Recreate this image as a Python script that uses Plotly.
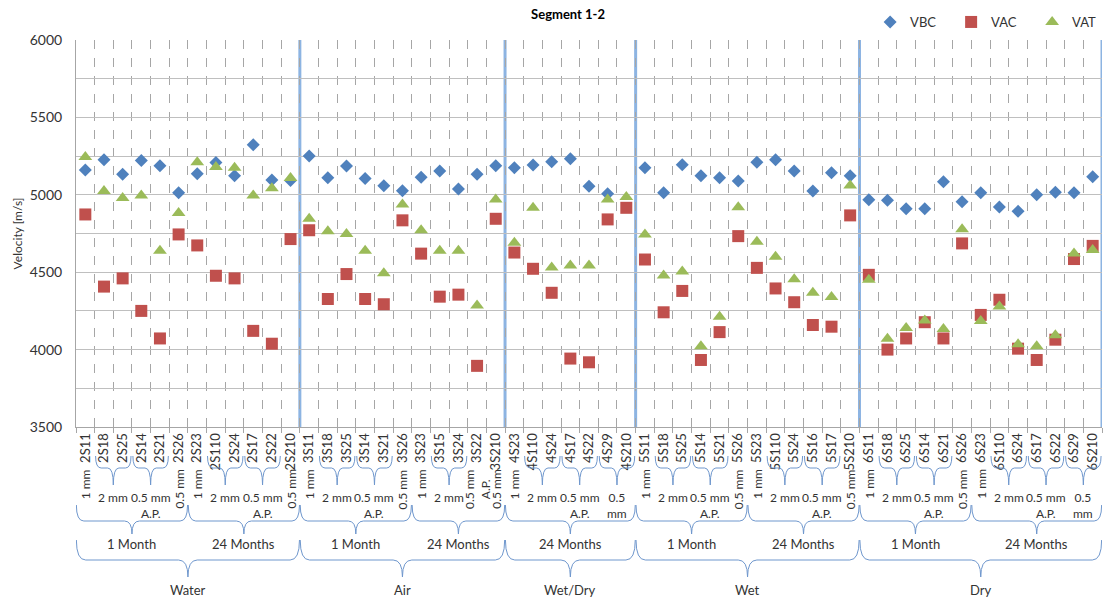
import plotly.graph_objects as go

categories = ["2S11","2S18","2S25","2S14","2S21","2S26","2S23","2S110","2S24","2S17","2S22","2S210",
              "3S11","3S18","3S25","3S14","3S21","3S26","3S23","3S15","3S24","3S22","3S210",
              "4S23","4S110","4S24","4S17","4S22","4S29","4S210",
              "5S11","5S18","5S25","5S14","5S21","5S26","5S23","5S110","5S24","5S16","5S17","5S210",
              "6S11","6S18","6S25","6S14","6S21","6S26","6S23","6S110","6S24","6S17","6S22","6S29","6S210"]

vbc = [5160,5226,5132,5222,5188,5013,5136,5209,5123,5323,5096,5093,
       5250,5110,5186,5106,5059,5026,5113,5153,5038,5132,5188,
       5175,5192,5214,5233,5055,5006,None,
       5175,5013,5194,5123,5110,5089,5211,5226,5153,5025,5143,5123,
       4968,4964,4910,4910,5085,4955,5013,4921,4893,5000,5017,5013,5117]
vac = [4873,4407,4460,4250,4072,4744,4673,4477,4460,4121,4038,4714,
       4771,4327,4488,4327,4293,4835,4620,4342,4355,3895,4845,
       4627,4522,4367,3942,3918,4841,4916,
       4582,4241,4379,3933,4113,4733,4528,4395,4306,4159,4148,4867,
       4483,4000,4072,4177,4072,4686,4224,4322,4006,3933,4064,4585,4670]
vat = [5244,5025,4979,4996,4638,4882,5211,5179,5175,4996,5043,5108,
       4845,4765,4746,4638,4494,4938,4771,4638,4638,4285,4970,
       4690,4916,4530,4543,4543,4970,4985,
       4743,4479,4504,4021,4213,4920,4697,4600,4454,4368,4339,5060,
       4451,4070,4139,4188,4133,4777,4184,4279,4034,4021,4092,4621,4643]

# level 1: aggregate size / pattern
l1_start = [0,1,3,5, 6,7,9,11, 12,13,15,17, 18,19,21,22, 23,24,26,28,
            30,31,33,35, 36,37,39,41, 42,43,45,47, 48,49,51,53]
l1_end   = [0,2,4,5, 6,8,10,11, 12,14,16,17, 18,20,21,22, 23,25,27,29,
            30,32,34,35, 36,38,40,41, 42,44,46,47, 48,50,52,54]
l1_text  = ["1 mm","2 mm","0.5 mm<br>A.P.","0.5 mm",
            "1 mm","2 mm","0.5 mm<br>A.P.","0.5 mm",
            "1 mm","2 mm","0.5 mm<br>A.P.","0.5 mm",
            "1 mm","2 mm","0.5 mm<br>A.P.","0.5 mm",
            "1 mm","2 mm","0.5 mm<br>A.P.","0.5<br>mm",
            "1 mm","2 mm","0.5 mm<br>A.P.","0.5 mm",
            "1 mm","2 mm","0.5 mm<br>A.P.","0.5 mm",
            "1 mm","2 mm","0.5 mm<br>A.P.","0.5 mm",
            "1 mm","2 mm","0.5 mm<br>A.P.","0.5<br>mm"]

# level 2: age
l2_start = [0,6,12,18,23,30,36,42,48]
l2_end   = [5,11,17,22,29,35,41,47,54]
l2_text  = ["1 Month","24 Months","1 Month","24 Months","24 Months",
            "1 Month","24 Months","1 Month","24 Months"]

# level 3: curing condition
l3_start = [0,12,23,30,42]
l3_end   = [11,22,29,41,54]
l3_text  = ["Water","Air","Wet/Dry","Wet","Dry"]

x_idx = list(range(len(categories)))

FONT = "Lato"
TXT = "#333333"
BRACE = "#6F97CD"

def py(ypx):
    return (427 - ypx) / 387.0

def brace_path(x0, x1, ytop, ymid, ytip, dx):
    xc = (x0 + x1) / 2
    a, b, c = py(ytop), py(ymid), py(ytip)
    return (f"M {x0},{a} Q {x0},{b} {x0+dx},{b} L {xc-dx},{b} Q {xc},{b} {xc},{c} "
            f"Q {xc},{b} {xc+dx},{b} L {x1-dx},{b} Q {x1},{b} {x1},{a}")

fig = go.Figure()
fig.add_trace(go.Scatter(x=x_idx, y=vbc, mode="markers", name="VBC",
                         marker=dict(symbol="diamond", size=10, color="#4F81BD")))
fig.add_trace(go.Scatter(x=x_idx, y=vac, mode="markers", name="VAC",
                         marker=dict(symbol="square", size=12, color="#C0504D")))
fig.add_trace(go.Scatter(x=x_idx, y=vat, mode="markers", name="VAT",
                         marker=dict(symbol="triangle-up", size=12, color="#9BBB59")))

shapes = []
annotations = []

# group separators
for e in l3_end:
    shapes.append(dict(type="line", xref="x", yref="paper", x0=e + 0.5, x1=e + 0.5, y0=0, y1=1,
                       line=dict(color="#8DB4E2", width=3), layer="between"))

# level 1
for s, e, t in zip(l1_start, l1_end, l1_text):
    if s == e:
        annotations.append(dict(x=s, y=py(467), xref="x", yref="paper", text=t, showarrow=False,
                                textangle=-90, yanchor="top", xanchor="center",
                                font=dict(family=FONT, size=12, color=TXT)))
    else:
        shapes.append(dict(type="path", xref="x", yref="paper",
                           path=brace_path(s - 0.45, e + 0.45, 456, 468, 485, 0.3),
                           line=dict(color=BRACE, width=1)))
        annotations.append(dict(x=(s + e) / 2, y=py(488), xref="x", yref="paper", text=t,
                                showarrow=False, yanchor="top", xanchor="center",
                                font=dict(family=FONT, size=12, color=TXT)))

# level 2
for s, e, t in zip(l2_start, l2_end, l2_text):
    shapes.append(dict(type="path", xref="x", yref="paper",
                       path=brace_path(s - 0.48, e + 0.48, 505, 521, 534, 0.4),
                       line=dict(color=BRACE, width=1)))
    annotations.append(dict(x=(s + e) / 2, y=py(544), xref="x", yref="paper", text=t,
                            showarrow=False, yanchor="middle", xanchor="center",
                            font=dict(family=FONT, size=13, color=TXT)))

# level 3
for s, e, t in zip(l3_start, l3_end, l3_text):
    shapes.append(dict(type="path", xref="x", yref="paper",
                       path=brace_path(s - 0.48, e + 0.48, 540, 560, 577, 0.5),
                       line=dict(color=BRACE, width=1)))
    annotations.append(dict(x=(s + e) / 2, y=py(590), xref="x", yref="paper", text=t,
                            showarrow=False, yanchor="middle", xanchor="center",
                            font=dict(family=FONT, size=13, color=TXT)))

fig.update_layout(
    width=1103, height=603,
    margin=dict(l=76, r=1, t=40, b=176, autoexpand=False),
    paper_bgcolor="white", plot_bgcolor="white",
    font=dict(family=FONT, size=13, color=TXT),
    title=dict(text="<b>Segment 1-2</b>", x=0.515, xanchor="center", y=1 - 14 / 603.0,
               yanchor="middle", font=dict(family=FONT, size=13, color="#000000")),
    showlegend=True,
    legend=dict(orientation="h", x=0.774, xanchor="left", y=py(22), yanchor="middle",
                font=dict(family=FONT, size=13, color=TXT), bgcolor="rgba(0,0,0,0)",
                entrywidth=36, itemwidth=30),
    xaxis=dict(range=[-0.5, len(categories) - 0.5], tickmode="array", tickvals=x_idx,
               ticktext=categories, tickangle=-90, ticks="", showgrid=False,
               showline=True, linecolor="#A6A6A6", linewidth=1, zeroline=False,
               tickfont=dict(family=FONT, size=13, color=TXT), automargin=False,
               minor=dict(tick0=0.5, dtick=1, showgrid=True, griddash="dash",
                          gridcolor="#A6A6A6", gridwidth=1, ticks="outside", ticklen=5,
                          tickcolor="#A6A6A6")),
    yaxis=dict(range=[3500, 6000], dtick=500, tick0=3500, showgrid=True, gridcolor="#BFBFBF",
               gridwidth=1, zeroline=False, showline=True, linecolor="#A6A6A6",
               ticks="outside", ticklen=10, tickcolor="rgba(0,0,0,0)",
               tickfont=dict(family=FONT, size=14, color=TXT), automargin=False,
               title=dict(text="Velocity [m/s]", standoff=4, font=dict(family=FONT, size=12, color=TXT)),
               minor=dict(dtick=250, showgrid=True, gridcolor="#BFBFBF", gridwidth=1)),
    shapes=shapes,
    annotations=annotations,
)

fig.write_html("out.html", config={"displayModeBar": False},
               post_script="document.body.style.margin='0';")
